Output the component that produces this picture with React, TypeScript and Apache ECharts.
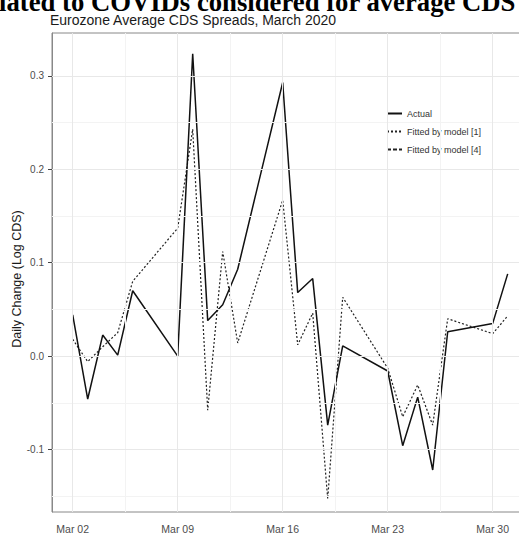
import React, { useEffect, useRef } from "react";
import * as echarts from "echarts";

// Trading days of March 2020 (day of month)
const days = [2, 3, 4, 5, 6, 9, 10, 11, 12, 13, 16, 17, 18, 19, 20, 23, 24, 25, 26, 27, 30, 31];
const actual = [0.044, -0.046, 0.0225, 0.001, 0.07, 0.0, 0.3237, 0.038, 0.055, 0.093, 0.293, 0.068, 0.083, -0.074, 0.011, -0.016, -0.096, -0.044, -0.122, 0.026, 0.035, 0.088];
const fitted1 = [0.018, -0.006, 0.01, 0.025, 0.08, 0.137, 0.243, -0.058, 0.112, 0.014, 0.167, 0.012, 0.046, -0.153, 0.063, -0.013, -0.065, -0.031, -0.074, 0.04, 0.024, 0.043];
const fitted4: number[] = [];

const seriesNames = ["Actual", "Fitted by model [1]", "Fitted by model [4]"];
const xTickDays = [2, 9, 16, 23, 30];
const xMinorDays = [5.5, 12.5, 19.5, 26.5];
const yTicks = [-0.1, 0, 0.1, 0.2, 0.3];
const yMinor = [-0.15, -0.05, 0.05, 0.15, 0.25];

const titleText = "Eurozone Average CDS Spreads, March 2020";
const headerText = "lated to COVIDs considered for average CDS";
const yAxisTitle = "Daily Change (Log CDS)";

export default function App() {
  const ref = useRef<HTMLDivElement>(null);
  useEffect(() => {
    if (!ref.current) return;
    const chart = echarts.init(ref.current, undefined, { renderer: "svg" });
    const pair = (arr: number[]) => arr.map((v, i) => [days[i], v]);
    const gridLine = (vals: number[], axis: "xAxis" | "yAxis") => vals.map((v) => ({ [axis]: v }));
    const sans = "Liberation Sans";
    chart.setOption({
      animation: false,
      backgroundColor: "#ffffff",
      title: {
        text: titleText,
        left: 50,
        top: 13,
        padding: 0,
        textStyle: { fontSize: 14, fontWeight: "normal", color: "#1a1a1a", fontFamily: sans },
      },
      graphic: [
        {
          type: "text",
          x: -1,
          y: 1.5,
          style: {
            text: headerText,
            fontSize: 26.7,
            fontWeight: "bold",
            fontFamily: "Liberation Serif",
            lineHeight: 20,
            fill: "#000",
            align: "left",
            verticalAlign: "middle",
          },
        },
      ],
      legend: {
        data: seriesNames,
        orient: "vertical",
        left: 382,
        top: 91,
        itemWidth: 15,
        itemHeight: 10,
        itemGap: 9,
        padding: [18, 5, 8, 4],
        backgroundColor: "#ffffff",
        itemStyle: { opacity: 0 },
        textStyle: { fontSize: 9, color: "#333", fontFamily: sans },
      },
      grid: {
        left: 52,
        right: -10,
        top: 33,
        bottom: 25,
        outerBoundsMode: "none",
        containLabel: false,
        show: true,
        borderColor: "#888",
        borderWidth: 1,
        backgroundColor: "transparent",
      },
      xAxis: {
        type: "value",
        min: 0.62,
        max: 32.42,
        splitLine: { show: false },
        axisLine: { show: true, lineStyle: { color: "#888", width: 1 } },
        axisTick: { show: true, length: 4, customValues: xTickDays, lineStyle: { color: "#444" } },
        axisLabel: {
          customValues: xTickDays,
          formatter: (v: number) => "Mar " + String(Math.round(v)).padStart(2, "0"),
          fontSize: 10.5,
          color: "#4d4d4d",
          fontFamily: sans,
          margin: 11,
        },
      },
      yAxis: {
        type: "value",
        min: -0.167,
        max: 0.346,
        name: yAxisTitle,
        nameLocation: "middle",
        nameGap: 29,
        nameMoveOverlap: false,
        nameTextStyle: { fontSize: 12.5, color: "#1a1a1a", fontFamily: sans, padding: [0, 13, 0, 0] },
        splitLine: { show: false },
        axisLine: { show: true, lineStyle: { color: "#888", width: 1 } },
        axisTick: { show: true, length: 4, customValues: yTicks, lineStyle: { color: "#444" } },
        axisLabel: {
          customValues: yTicks,
          formatter: (v: number) => v.toFixed(1),
          fontSize: 10,
          color: "#4d4d4d",
          fontFamily: sans,
          margin: 8,
        },
      },
      series: [
        {
          type: "line",
          name: "_minorGrid",
          data: [],
          z: 1,
          silent: true,
          markLine: {
            silent: true,
            symbol: ["none", "none"],
            label: { show: false },
            animation: false,
            lineStyle: { color: "#f3f3f3", width: 1, type: "solid" },
            emphasis: { disabled: true },
            data: [...gridLine(xMinorDays, "xAxis"), ...gridLine(yMinor, "yAxis")],
          },
        },
        {
          type: "line",
          name: "_majorGrid",
          data: [],
          z: 1,
          silent: true,
          markLine: {
            silent: true,
            symbol: ["none", "none"],
            label: { show: false },
            animation: false,
            lineStyle: { color: "#e8e8e8", width: 1, type: "solid" },
            emphasis: { disabled: true },
            data: [...gridLine(xTickDays, "xAxis"), ...gridLine(yTicks, "yAxis")],
          },
        },
        {
          type: "line",
          name: seriesNames[1],
          data: pair(fitted1),
          z: 3,
          symbol: "none",
          lineStyle: { color: "#222", width: 1.2, type: [2, 2] },
          itemStyle: { color: "#222" },
        },
        {
          type: "line",
          name: seriesNames[2],
          data: pair(fitted4),
          z: 3,
          symbol: "none",
          lineStyle: { color: "#222", width: 1.2, type: [4, 2] },
          itemStyle: { color: "#222" },
        },
        {
          type: "line",
          name: seriesNames[0],
          data: pair(actual),
          z: 4,
          symbol: "none",
          lineStyle: { color: "#111", width: 1.5, type: "solid" },
          itemStyle: { color: "#111" },
        },
      ],
    });
    return () => chart.dispose();
  }, []);
  return <div ref={ref} style={{ position: "fixed", left: 0, top: 0, width: 519, height: 537 }} />;
}
